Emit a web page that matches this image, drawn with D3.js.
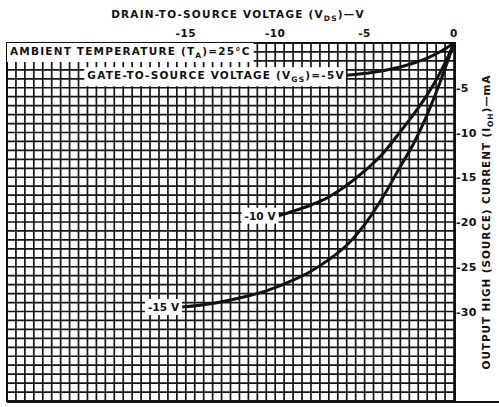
<!DOCTYPE html>
<html>
<head>
<meta charset="utf-8">
<script src="https://cdn.jsdelivr.net/npm/d3@7"></script>
<style>
  body { margin: 0; background: #fff; }
  text { font-family: "DejaVu Sans", sans-serif; font-weight: bold; fill: #111; }
</style>
</head>
<body>
<svg width="499" height="407"></svg>
<script>
// drain-to-source voltage (V) and source current (mA)
const vds5 = [0, -0.7, -1.5, -2.5, -3.5, -4.6, -6.0]
const ioh5 = [0, -0.9, -1.7, -2.4, -2.9, -3.3, -3.6]

const vds10 = [0, -0.4, -0.8, -1.5, -2.2, -3.0, -4.0, -5.0, -6.0, -7.0, -8.0, -9.0, -9.8]
const ioh10 = [0, -1.8, -3.4, -5.8, -7.8, -9.9, -12.4, -14.3, -15.9, -17.2, -18.1, -18.8, -19.3]

const vds15 = [0, -0.4, -0.8, -1.5, -2.2, -3.0, -4.0, -5.0, -6.0, -7.0, -8.0, -9.0, -10.5, -12, -13.5, -15.2]
const ioh15 = [0, -2.3, -4.5, -8.0, -11.0, -13.8, -17.3, -20.3, -22.6, -24.2, -25.5, -26.5, -27.7, -28.5, -29.1, -29.5]

const xTicks = [-15, -10, -5, 0]
const yTicks = [-5, -10, -15, -20, -25, -30]

const curves = [
  {v: vds5, i: ioh5, label: null},
  {v: vds10, i: ioh10, label: "-10 V"},
  {v: vds15, i: ioh15, label: "-15 V"}
]

const svg = d3.select("svg")
const pl = 7, pr = 454, pt = 43, pb = 401

const x = d3.scaleLinear([-25, 0], [pl, pr])
const y = d3.scaleLinear([0, -40], [pt, pb])

// grid: 0.5 V by 1 mA
const grid = svg.append("g").attr("stroke", "#151515").attr("stroke-width", 1.7)
grid.selectAll(".gx").data(d3.range(-25, 0.01, 0.5)).enter().append("line")
  .attr("x1", d => x(d)).attr("x2", d => x(d)).attr("y1", pt).attr("y2", pb)
grid.selectAll(".gy").data(d3.range(0, -40.01, -1)).enter().append("line")
  .attr("x1", pl).attr("x2", pr).attr("y1", d => y(d)).attr("y2", d => y(d))

// frame
svg.append("rect").attr("x", pl).attr("y", pt)
  .attr("width", pr - pl + 1).attr("height", pb - pt)
  .attr("fill", "none").attr("stroke", "#111").attr("stroke-width", 2)
svg.append("line").attr("x1", pl).attr("x2", 499).attr("y1", pb + 1).attr("y2", pb + 1)
  .attr("stroke", "#111").attr("stroke-width", 2)

// labelled white boxes on the grid
function boxText(tx, ty, anchor, parts, pad, ls) {
  const g = svg.append("g")
  const t = g.append("text").attr("x", tx).attr("y", ty)
    .attr("text-anchor", anchor).attr("font-size", 10.5).attr("letter-spacing", ls)
  parts.forEach(p => {
    const s = t.append("tspan").text(p[0])
    if (p[1]) s.attr("font-size", 7.5).attr("dy", 3)
    if (p[2]) s.attr("dy", -3)
  })
  const b = t.node().getBBox()
  g.insert("rect", "text").attr("x", b.x - pad[0]).attr("y", b.y - pad[1])
    .attr("width", b.width + pad[0] + pad[2]).attr("height", b.height + pad[1] * 2)
    .attr("fill", "#fff")
  return g
}

const line = d3.line().x(d => x(d[0])).y(d => y(d[1])).curve(d3.curveMonotoneX)

svg.append("g").selectAll("path").data(curves).enter().append("path")
  .attr("d", c => line(d3.zip(c.v, c.i).reverse()))
  .attr("fill", "none").attr("stroke", "#111").attr("stroke-width", 3)

boxText(pl + 3, pt + 12, "start",
  [["AMBIENT TEMPERATURE (T"], ["A", true], [")=25°C", false, true]], [3, 2, 3], 1.2)

const c5 = curves[0]
boxText(x(c5.v[c5.v.length - 1]) - 2, y(c5.i[c5.i.length - 1]) + 4, "end",
  [["GATE-TO-SOURCE VOLTAGE (V"], ["GS", true], [")=-5V", false, true]], [3, 2, 1], 1.2)

curves.slice(1).forEach(c => {
  boxText(x(c.v[c.v.length - 1]) - 3, y(c.i[c.i.length - 1]) + 4, "end",
    [[c.label]], [3, 2, 2], 0.1)
})

// top axis
svg.append("g").selectAll("text").data(xTicks).enter().append("text")
  .attr("x", d => x(d)).attr("y", pt - 6).attr("text-anchor", "middle")
  .attr("font-size", 10.5).attr("letter-spacing", 0.5)
  .text(d => d === 0 ? "0" : "-" + Math.abs(d))

const xt = svg.append("text").attr("x", 238).attr("y", 18).attr("text-anchor", "middle")
  .attr("font-size", 10.5).attr("letter-spacing", 1.2)
xt.append("tspan").text("DRAIN-TO-SOURCE VOLTAGE (V")
xt.append("tspan").text("DS").attr("font-size", 7.5).attr("dy", 3)
xt.append("tspan").text(")—V").attr("dy", -3)

// right axis
svg.append("g").selectAll("text").data(yTicks).enter().append("text")
  .attr("x", pr + 2).attr("y", d => y(d) + 4)
  .attr("font-size", 11).attr("letter-spacing", 0.3)
  .text(d => "-" + Math.abs(d))

const yt = svg.append("text").attr("transform", "translate(490,222) rotate(-90)")
  .attr("text-anchor", "middle").attr("font-size", 10.5).attr("letter-spacing", 0.9)
yt.append("tspan").text("OUTPUT HIGH (SOURCE) CURRENT (I")
yt.append("tspan").text("OH").attr("font-size", 7.5).attr("dy", 3)
yt.append("tspan").text(")—mA").attr("dy", -3)
</script>
</body>
</html>
